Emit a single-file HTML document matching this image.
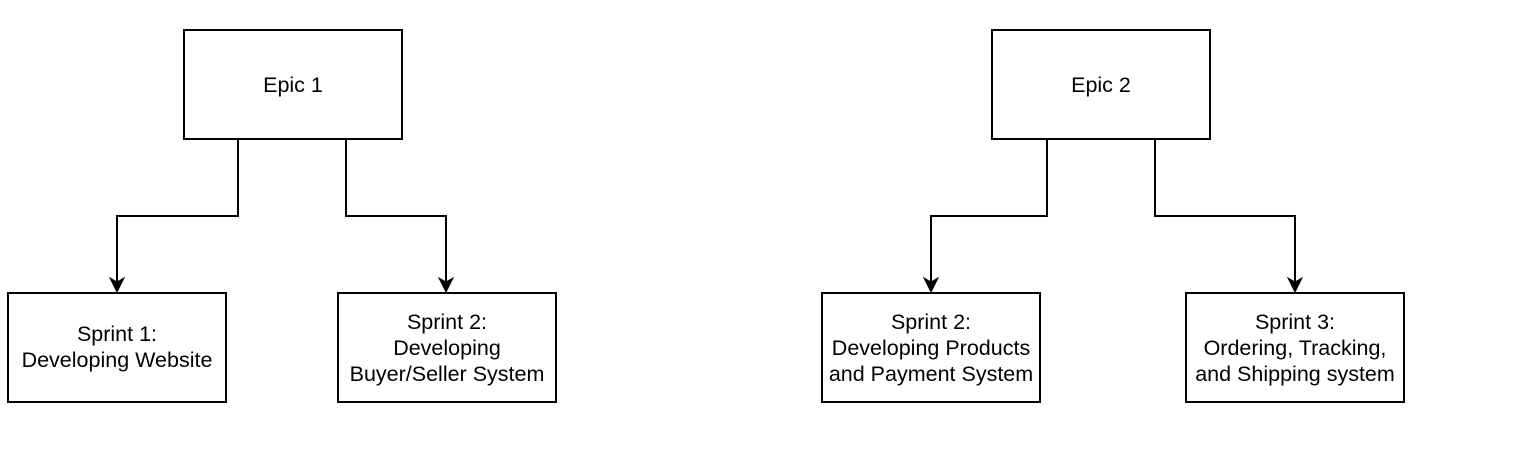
<!DOCTYPE html>
<html><head><style>
body{margin:0;background:#fff;width:1526px;height:444px;overflow:hidden}
</style></head><body>
<svg width="1526" height="444" xmlns="http://www.w3.org/2000/svg" font-family="Liberation Sans, Arial, sans-serif" font-size="21.5" text-anchor="middle">
<g fill="#fff" stroke="#000" stroke-width="2">
<rect x="184" y="30" width="218" height="109"/>
<rect x="992" y="30" width="218" height="109"/>
<rect x="8" y="293" width="218" height="109"/>
<rect x="338" y="293" width="218" height="109"/>
<rect x="822" y="293" width="218" height="109"/>
<rect x="1186" y="293" width="218" height="109"/>
</g>
<g fill="none" stroke="#000" stroke-width="2">
<path d="M238,139 V216 H117 V284"/>
<path d="M346,139 V216 H446 V284"/>
<path d="M1047,139 V216 H931 V284"/>
<path d="M1155,139 V216 H1295 V284"/>
</g>
<g fill="#000" stroke="#000" stroke-width="1">
<path d="M110,278 L117,292 L124,278 L117,282 Z"/>
<path d="M439,278 L446,292 L453,278 L446,282 Z"/>
<path d="M924,278 L931,292 L938,278 L931,282 Z"/>
<path d="M1288,278 L1295,292 L1302,278 L1295,282 Z"/>
</g>
<g fill="#000">
<text x="293" y="92">Epic 1</text>
<text x="1101" y="92">Epic 2</text>
<text x="117" y="341">Sprint 1:</text>
<text x="117" y="367">Developing Website</text>
<text x="447" y="329">Sprint 2:</text>
<text x="447" y="355">Developing</text>
<text x="447" y="381">Buyer/Seller System</text>
<text x="931" y="329">Sprint 2:</text>
<text x="931" y="355">Developing Products</text>
<text x="931" y="381">and Payment System</text>
<text x="1295" y="329">Sprint 3:</text>
<text x="1295" y="355">Ordering, Tracking,</text>
<text x="1295" y="381">and Shipping system</text>
</g>
</svg>
</body></html>
